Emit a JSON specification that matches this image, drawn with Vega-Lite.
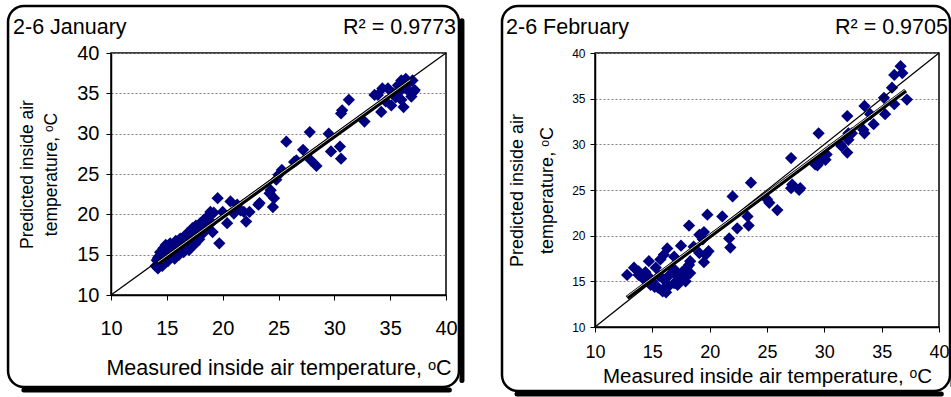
{
  "$schema": "https://vega.github.io/schema/vega-lite/v6.json",
  "background": "white",
  "padding": {"left": 6, "top": 3, "right": 0, "bottom": 0},
  "spacing": 34,
  "config": {
    "font": "Liberation Sans",
    "view": {"stroke": "black", "strokeWidth": 1.5},
    "axis": {"domainColor": "black", "domainWidth": 1.5, "tickColor": "black", "tickWidth": 1, "tickSize": 5, "labelColor": "black", "titleColor": "black", "titleFontWeight": "normal", "labelFlush": false, "labelOverlap": false, "gridColor": "#808080", "gridDash": [2, 2], "gridWidth": 1}
  },
  "datasets": {
    "jan": [
      {"m": 14.0, "p": 13.6}, {"m": 14.1, "p": 14.3}, {"m": 14.2, "p": 13.3}, {"m": 14.3, "p": 14.8}, {"m": 14.3, "p": 13.9},
      {"m": 14.4, "p": 15.3}, {"m": 14.5, "p": 14.2}, {"m": 14.6, "p": 13.6}, {"m": 14.7, "p": 15.8}, {"m": 14.8, "p": 14.7},
      {"m": 14.9, "p": 16.2}, {"m": 15.0, "p": 15.1}, {"m": 15.1, "p": 14.2}, {"m": 15.2, "p": 15.6}, {"m": 15.3, "p": 16.4},
      {"m": 15.4, "p": 14.7}, {"m": 15.5, "p": 15.3}, {"m": 15.6, "p": 16.0}, {"m": 15.7, "p": 14.5}, {"m": 15.8, "p": 16.7},
      {"m": 15.9, "p": 15.4}, {"m": 16.0, "p": 16.2}, {"m": 16.1, "p": 15.0}, {"m": 16.2, "p": 17.0}, {"m": 16.3, "p": 15.8},
      {"m": 16.4, "p": 16.6}, {"m": 16.5, "p": 15.3}, {"m": 16.6, "p": 17.3}, {"m": 16.7, "p": 16.0}, {"m": 16.8, "p": 17.6},
      {"m": 16.9, "p": 16.5}, {"m": 17.0, "p": 15.6}, {"m": 17.1, "p": 17.9}, {"m": 17.2, "p": 16.8}, {"m": 17.3, "p": 18.3},
      {"m": 17.4, "p": 17.2}, {"m": 17.5, "p": 16.3}, {"m": 17.6, "p": 18.6}, {"m": 17.7, "p": 17.0}, {"m": 17.8, "p": 18.0},
      {"m": 17.9, "p": 16.9}, {"m": 18.0, "p": 18.9}, {"m": 18.2, "p": 17.6}, {"m": 18.3, "p": 19.3}, {"m": 18.5, "p": 18.3},
      {"m": 18.7, "p": 19.8}, {"m": 18.9, "p": 20.3}, {"m": 19.0, "p": 19.0}, {"m": 19.1, "p": 17.8}, {"m": 19.2, "p": 20.2},
      {"m": 19.55, "p": 22.0}, {"m": 19.7, "p": 16.4}, {"m": 14.2, "p": 14.6}, {"m": 14.6, "p": 15.0}, {"m": 15.0, "p": 14.6},
      {"m": 15.4, "p": 15.8}, {"m": 15.8, "p": 15.6}, {"m": 16.2, "p": 16.4}, {"m": 16.6, "p": 16.4}, {"m": 17.0, "p": 17.2},
      {"m": 17.4, "p": 17.8}, {"m": 17.8, "p": 17.5},
      {"m": 20.4, "p": 18.9}, {"m": 20.0, "p": 20.3}, {"m": 20.7, "p": 21.6}, {"m": 21.0, "p": 20.1}, {"m": 21.3, "p": 21.2},
      {"m": 21.6, "p": 20.5}, {"m": 21.9, "p": 20.3}, {"m": 22.1, "p": 19.1}, {"m": 22.4, "p": 20.3}, {"m": 23.2, "p": 21.2},
      {"m": 23.3, "p": 21.4}, {"m": 24.3, "p": 23.0}, {"m": 24.2, "p": 22.6}, {"m": 24.5, "p": 20.9}, {"m": 24.6, "p": 22.0},
      {"m": 24.8, "p": 24.3}, {"m": 25.0, "p": 24.9}, {"m": 25.3, "p": 25.5}, {"m": 25.7, "p": 29.0}, {"m": 26.4, "p": 26.5},
      {"m": 26.6, "p": 26.7}, {"m": 27.2, "p": 28.0}, {"m": 27.8, "p": 30.2}, {"m": 27.9, "p": 26.7}, {"m": 28.4, "p": 26.0},
      {"m": 29.5, "p": 30.0}, {"m": 29.7, "p": 27.8}, {"m": 30.5, "p": 28.4}, {"m": 30.6, "p": 26.9}, {"m": 30.6, "p": 32.5},
      {"m": 30.7, "p": 32.9}, {"m": 31.3, "p": 34.2}, {"m": 32.7, "p": 31.5}, {"m": 33.6, "p": 34.8}, {"m": 33.9, "p": 34.8},
      {"m": 34.2, "p": 32.7}, {"m": 34.3, "p": 35.6}, {"m": 34.8, "p": 35.6}, {"m": 35.1, "p": 33.5}, {"m": 35.3, "p": 35.0},
      {"m": 35.7, "p": 36.0}, {"m": 36.0, "p": 34.2}, {"m": 36.0, "p": 36.6}, {"m": 36.2, "p": 33.3}, {"m": 36.7, "p": 36.3},
      {"m": 36.9, "p": 34.6}, {"m": 37.0, "p": 36.6}, {"m": 37.1, "p": 35.2}, {"m": 37.2, "p": 35.4}, {"m": 36.5, "p": 35.5},
      {"m": 35.5, "p": 34.5}, {"m": 34.6, "p": 34.0}, {"m": 36.4, "p": 36.8}, {"m": 35.9, "p": 35.3}
    ],
    "janTrend": [{"m": 14.2, "p": 13.9}, {"m": 36.8, "p": 36.5}],
    "feb": [
      {"m": 12.8, "p": 15.7}, {"m": 13.4, "p": 16.5}, {"m": 13.8, "p": 15.7}, {"m": 13.8, "p": 16.1}, {"m": 14.6, "p": 15.6},
      {"m": 14.7, "p": 17.2}, {"m": 14.85, "p": 14.6}, {"m": 15.0, "p": 15.0}, {"m": 15.3, "p": 16.5}, {"m": 15.6, "p": 15.6},
      {"m": 15.7, "p": 17.4}, {"m": 15.9, "p": 13.9}, {"m": 15.9, "p": 14.1}, {"m": 16.0, "p": 17.9}, {"m": 16.3, "p": 18.6},
      {"m": 16.45, "p": 14.5}, {"m": 16.7, "p": 16.5}, {"m": 16.9, "p": 17.7}, {"m": 16.9, "p": 14.8}, {"m": 17.3, "p": 15.2},
      {"m": 17.5, "p": 18.9}, {"m": 17.8, "p": 15.4}, {"m": 17.9, "p": 15.0}, {"m": 18.0, "p": 16.5}, {"m": 18.2, "p": 16.8},
      {"m": 18.3, "p": 15.9}, {"m": 18.2, "p": 21.1}, {"m": 18.3, "p": 17.2}, {"m": 18.6, "p": 18.8}, {"m": 19.1, "p": 20.1},
      {"m": 19.1, "p": 18.1}, {"m": 19.4, "p": 19.6}, {"m": 19.5, "p": 20.4}, {"m": 19.5, "p": 17.1}, {"m": 19.65, "p": 17.9},
      {"m": 19.8, "p": 22.3}, {"m": 19.9, "p": 18.3}, {"m": 14.2, "p": 15.3}, {"m": 15.2, "p": 14.4}, {"m": 16.0, "p": 15.2},
      {"m": 16.5, "p": 15.7}, {"m": 17.0, "p": 16.2}, {"m": 15.5, "p": 14.3}, {"m": 16.2, "p": 13.8}, {"m": 17.2, "p": 14.6},
      {"m": 14.4, "p": 16.0}, {"m": 16.9, "p": 15.9}, {"m": 17.6, "p": 16.0},
      {"m": 21.1, "p": 22.1}, {"m": 21.7, "p": 19.7}, {"m": 21.8, "p": 18.7}, {"m": 22.0, "p": 24.3}, {"m": 22.4, "p": 20.8},
      {"m": 23.3, "p": 22.1}, {"m": 23.4, "p": 21.1}, {"m": 23.6, "p": 25.8}, {"m": 25.0, "p": 24.0}, {"m": 25.2, "p": 23.6},
      {"m": 25.9, "p": 22.8}, {"m": 27.1, "p": 28.5}, {"m": 27.1, "p": 25.2}, {"m": 27.2, "p": 25.6}, {"m": 27.8, "p": 25.0},
      {"m": 27.9, "p": 25.2}, {"m": 29.2, "p": 27.8}, {"m": 29.4, "p": 27.7}, {"m": 29.5, "p": 31.2}, {"m": 29.8, "p": 28.3},
      {"m": 30.1, "p": 28.3}, {"m": 30.2, "p": 28.9}, {"m": 31.4, "p": 30.0}, {"m": 31.5, "p": 29.8}, {"m": 32.0, "p": 33.1},
      {"m": 32.0, "p": 29.1}, {"m": 32.1, "p": 30.5}, {"m": 32.1, "p": 31.2}, {"m": 32.4, "p": 31.2}, {"m": 33.4, "p": 31.6},
      {"m": 33.5, "p": 34.2}, {"m": 33.5, "p": 31.2}, {"m": 34.0, "p": 33.3}, {"m": 34.3, "p": 32.2}, {"m": 35.2, "p": 35.1},
      {"m": 35.3, "p": 33.3}, {"m": 35.9, "p": 36.2}, {"m": 36.1, "p": 34.4}, {"m": 36.1, "p": 37.6}, {"m": 36.65, "p": 38.55},
      {"m": 36.8, "p": 37.8}, {"m": 37.2, "p": 34.9}
    ],
    "febTrend": [{"m": 12.8, "p": 13.2}, {"m": 37.1, "p": 35.9}]
  },
  "hconcat": [
    {
      "width": 335,
      "height": 242,
      "data": {"name": "jan"},
      "encoding": {
        "x": {"field": "m", "type": "quantitative", "scale": {"domain": [10, 40], "nice": false, "zero": false},
          "axis": {"values": [10, 15, 20, 25, 30, 35, 40], "grid": false, "title": "Measured inside air temperature, ᵒC", "titleFontSize": 21.5, "labelFontSize": 20, "labelPadding": 18, "titlePadding": 19}},
        "y": {"field": "p", "type": "quantitative", "scale": {"domain": [10, 40], "nice": false, "zero": false},
          "axis": {"values": [10, 15, 20, 25, 30, 35, 40], "grid": true, "title": ["Predicted inside air", "temperature, ᵒC"], "titleFontSize": 17.5, "titleLineHeight": 24, "labelFontSize": 20, "labelPadding": 7, "titlePadding": 16}}
      },
      "layer": [
        {"transform": [{"window": [{"op": "row_number", "as": "rn"}]}, {"filter": "datum.rn === 1"}],
          "mark": {"type": "rect", "cornerRadius": 16, "fill": "white", "fillOpacity": 0, "stroke": "black", "strokeWidth": 2.5},
          "encoding": {"x": {"datum": 0.78}, "x2": {"datum": 41.16}, "y": {"datum": 45.82}, "y2": {"datum": -1.4}}},
        {"transform": [{"window": [{"op": "row_number", "as": "rn"}]}, {"filter": "datum.rn === 1"}],
          "mark": {"type": "rule", "stroke": "black", "strokeWidth": 5, "xOffset": 3, "strokeCap": "round"},
          "encoding": {"x": {"datum": 41.16}, "y": {"datum": 44.0}, "y2": {"datum": -0.6}}},
        {"transform": [{"window": [{"op": "row_number", "as": "rn"}]}, {"filter": "datum.rn === 1"}],
          "mark": {"type": "rule", "stroke": "black", "strokeWidth": 5, "yOffset": 3, "strokeCap": "round"},
          "encoding": {"x": {"datum": 2.2}, "x2": {"datum": 40.3}, "y": {"datum": -1.4}}},
        {"mark": {"type": "point", "shape": "diamond", "filled": true, "color": "#000080", "opacity": 1, "size": 150}},
        {"transform": [{"window": [{"op": "row_number", "as": "rn"}]}, {"filter": "datum.rn === 1"}],
          "mark": {"type": "rule", "stroke": "black", "strokeWidth": 1.3},
          "encoding": {"x": {"datum": 10}, "y": {"datum": 10}, "x2": {"datum": 40}, "y2": {"datum": 40}}},
        {"data": {"name": "janTrend"}, "mark": {"type": "line", "color": "black", "strokeWidth": 4.5}},
        {"data": {"name": "janTrend"}, "mark": {"type": "line", "color": "white", "strokeWidth": 0.8, "yOffset": -1.4}},
        {"transform": [{"window": [{"op": "row_number", "as": "rn"}]}, {"filter": "datum.rn === 1"}],
          "mark": {"type": "text", "align": "left", "baseline": "alphabetic", "fontSize": 21.5, "fontWeight": "normal", "color": "black"},
          "encoding": {"x": {"datum": 1.23}, "y": {"datum": 42.35}, "text": {"value": "2-6 January"}}},
        {"transform": [{"window": [{"op": "row_number", "as": "rn"}]}, {"filter": "datum.rn === 1"}],
          "mark": {"type": "text", "align": "right", "baseline": "alphabetic", "fontSize": 21.5, "fontWeight": "normal", "color": "black"},
          "encoding": {"x": {"datum": 40.9}, "y": {"datum": 42.35}, "text": {"value": "R² = 0.9773"}}}
      ]
    },
    {
      "width": 344,
      "height": 274,
      "data": {"name": "feb"},
      "encoding": {
        "x": {"field": "m", "type": "quantitative", "scale": {"domain": [10, 40], "nice": false, "zero": false},
          "axis": {"values": [10, 15, 20, 25, 30, 35, 40], "grid": false, "title": "Measured inside air temperature, ᵒC", "titleFontSize": 20.5, "labelFontSize": 18, "labelPadding": 11, "titlePadding": 5}},
        "y": {"field": "p", "type": "quantitative", "scale": {"domain": [10, 40], "nice": false, "zero": false},
          "axis": {"values": [10, 15, 20, 25, 30, 35, 40], "grid": true, "title": ["Predicted inside air", "temperature, ᵒC"], "titleFontSize": 18, "titleLineHeight": 30, "labelFontSize": 12, "labelPadding": 5, "titlePadding": 15}}
      },
      "layer": [
        {"transform": [{"window": [{"op": "row_number", "as": "rn"}]}, {"filter": "datum.rn === 1"}],
          "mark": {"type": "rect", "cornerRadius": 16, "fill": "white", "fillOpacity": 0, "stroke": "black", "strokeWidth": 2.5},
          "encoding": {"x": {"datum": 1.89}, "x2": {"datum": 40.96}, "y": {"datum": 45.15}, "y2": {"datum": 2.99}}},
        {"transform": [{"window": [{"op": "row_number", "as": "rn"}]}, {"filter": "datum.rn === 1"}],
          "mark": {"type": "rule", "stroke": "black", "strokeWidth": 5, "xOffset": 3, "strokeCap": "round"},
          "encoding": {"x": {"datum": 40.96}, "y": {"datum": 43.5}, "y2": {"datum": 3.6}}},
        {"transform": [{"window": [{"op": "row_number", "as": "rn"}]}, {"filter": "datum.rn === 1"}],
          "mark": {"type": "rule", "stroke": "black", "strokeWidth": 5, "yOffset": 3, "strokeCap": "round"},
          "encoding": {"x": {"datum": 3.2}, "x2": {"datum": 40.2}, "y": {"datum": 2.99}}},
        {"mark": {"type": "point", "shape": "diamond", "filled": true, "color": "#000080", "opacity": 1, "size": 150}},
        {"transform": [{"window": [{"op": "row_number", "as": "rn"}]}, {"filter": "datum.rn === 1"}],
          "mark": {"type": "rule", "stroke": "black", "strokeWidth": 1.3},
          "encoding": {"x": {"datum": 10}, "y": {"datum": 10}, "x2": {"datum": 40}, "y2": {"datum": 40}}},
        {"data": {"name": "febTrend"}, "mark": {"type": "line", "color": "black", "strokeWidth": 4.5}},
        {"data": {"name": "febTrend"}, "mark": {"type": "line", "color": "white", "strokeWidth": 0.8, "yOffset": -1.4}},
        {"transform": [{"window": [{"op": "row_number", "as": "rn"}]}, {"filter": "datum.rn === 1"}],
          "mark": {"type": "text", "align": "left", "baseline": "alphabetic", "fontSize": 21.5, "fontWeight": "normal", "color": "black"},
          "encoding": {"x": {"datum": 2.24}, "y": {"datum": 42.08}, "text": {"value": "2-6 February"}}},
        {"transform": [{"window": [{"op": "row_number", "as": "rn"}]}, {"filter": "datum.rn === 1"}],
          "mark": {"type": "text", "align": "right", "baseline": "alphabetic", "fontSize": 21.5, "fontWeight": "normal", "color": "black"},
          "encoding": {"x": {"datum": 40.78}, "y": {"datum": 42.08}, "text": {"value": "R² = 0.9705"}}}
      ]
    }
  ]
}
